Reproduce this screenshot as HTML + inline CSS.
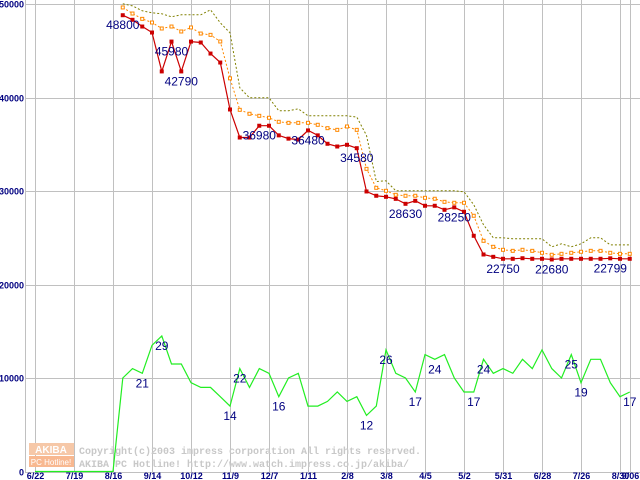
<!DOCTYPE html>
<html><head><meta charset="utf-8"><style>
html,body{margin:0;padding:0;background:#fff;}
svg{display:block;}
text{font-family:"Liberation Sans",sans-serif;}
</style></head><body>
<svg id="chart" width="640" height="480" viewBox="0 0 640 480" xmlns="http://www.w3.org/2000/svg">
<g id="grid"></g>
<g id="watermark">
  <rect x="29" y="443" width="45" height="12" fill="#f6c8a8"/>
  <rect x="29" y="456" width="45" height="11" fill="#f8b890"/>
  <text x="51" y="453" font-size="10" font-weight="bold" fill="#fff" text-anchor="middle">AKIBA</text>
  <text x="51" y="465" font-size="8" fill="#fff" text-anchor="middle">PC Hotline!</text>
  <text x="79" y="454" font-size="10" font-weight="bold" fill="#c8c8c8" style="font-family:'Liberation Mono',monospace">Copyright(c)2003 impress corporation All rights reserved.</text>
  <text x="79" y="467" font-size="10" font-weight="bold" fill="#c8c8c8" style="font-family:'Liberation Mono',monospace">AKIBA PC Hotline!  http://www.watch.impress.co.jp/akiba/</text>
</g>
<g id="series"></g>
<g id="labels"></g>
</svg>
<script>
const xTickIdx = [0,4,8,12,16,20,24,28,32,36,40,44,48,52,56,60,61];
const xTickLabels = ["6/22","7/19","8/16","9/14","10/12","11/9","12/7","1/11","2/8","3/8","4/5","5/2","5/31","6/28","7/26","8/30","9/06"];
const yTicks = [0,10000,20000,30000,40000,50000];
const priceStart = 9;
const minPrice = [48800,48310,47590,46950,42790,45980,42790,45980,45880,44700,43740,38720,35720,35720,36980,36980,35950,35600,35500,36480,35950,35050,34760,34940,34580,29950,29490,29380,29160,28630,28950,28420,28420,27990,28250,27780,25210,23210,22960,22750,22750,22810,22750,22750,22680,22750,22750,22750,22750,22750,22799,22750,22750];
const avgPrice = [49630,48980,48410,48020,47380,47590,47060,47490,46840,46700,45990,42050,38680,38260,38040,37830,37400,37290,37290,37290,37080,36720,36540,36900,36540,32370,30340,30020,29590,29490,29490,29270,29170,28840,28740,28740,27350,24670,24030,23710,23600,23710,23600,23390,23180,23280,23390,23500,23600,23600,23390,23280,23280];
const maxPrice = [50020,49800,49270,49060,48950,48630,48840,48840,48840,49380,47990,46920,41040,39970,39970,39970,38580,38580,38790,38040,38040,38040,38040,38040,37900,35950,31020,31090,30020,30020,30020,30020,30020,30020,30020,29910,28520,26380,24990,24990,24890,24890,24890,24890,24030,24350,24030,24350,24990,24990,24240,24240,24240];
const shopCount = [0,0,0,0,0,0,0,0,0,20,22,21,27,29,23,23,19,18,18,16,14,22,18,22,21,16,20,21,14,14,15,17,15,16,12,14,26,21,20,17,25,24,25,20,17,17,24,21,22,21,24,22,26,22,20,25,19,24,24,19,16,17];
const priceLabelIdx = [9,14,15,23,28,33,38,43,48,53,59];
const priceLabelText = ["48800","45980","42790","36980","36480","34580","28630","28250","22750","22680","22799"];
const countLabelIdx = [11,13,20,21,25,34,36,39,41,45,46,55,56,61];

const NS="http://www.w3.org/2000/svg";
function xs(i){return 35+i*9.75;}
function ys(v){return 471.5-v*0.00935;}
function mk(tag,attrs,parent){const e=document.createElementNS(NS,tag);for(const k in attrs)e.setAttribute(k,attrs[k]);parent.appendChild(e);return e;}
const grid=document.getElementById('grid'),series=document.getElementById('series'),labels=document.getElementById('labels');

let l=mk('line',{x1:25.5,y1:0,x2:25.5,y2:472,stroke:'#c0c0c0'},grid);


yTicks.forEach(v=>{
  const y=Math.round(ys(v))+0.5;
  const g=mk('line',{x1:25,y1:y,x2:640,y2:y,stroke:'#c0c0c0'},grid);
  
  
  const t=mk('text',{x:24,y:y+3,'font-size':9,'font-weight':'bold',fill:'#000080','text-anchor':'end'},grid);
  t.textContent=String(v);
  
  
});
xTickIdx.forEach((i,k)=>{
  const x=Math.round(xs(i))+0.5;
  const g=mk('line',{x1:x,y1:0,x2:x,y2:472,stroke:'#c0c0c0'},grid);
  
  
  const t=mk('text',{x:x,y:479,'font-size':9,'font-weight':'bold',fill:'#000080','text-anchor':'middle'},grid);
  t.textContent=xTickLabels[k];
  
  
});

function pts(arr,off){return arr.map((v,j)=>xs(j+off).toFixed(1)+','+ys(v).toFixed(1)).join(' ');}
let p=mk('polyline',{points:pts(shopCount.map(c=>c*500),0),fill:'none',stroke:'#22ee22','stroke-width':1.2},series);


p=mk('polyline',{points:pts(maxPrice,priceStart),fill:'none',stroke:'#808000','stroke-width':1,'stroke-dasharray':'2,2'},series);


p=mk('polyline',{points:pts(avgPrice,priceStart),fill:'none',stroke:'#ff8800','stroke-width':1,'stroke-dasharray':'2,2'},series);


avgPrice.forEach((v,j)=>{
  const r=mk('rect',{x:xs(j+priceStart)-1.5,y:ys(v)-1.5,width:3,height:3,fill:'#fff',stroke:'#ff8800','stroke-width':1},series);
  
  
});
p=mk('polyline',{points:pts(minPrice,priceStart),fill:'none',stroke:'#cc0000','stroke-width':1.2},series);


minPrice.forEach((v,j)=>{
  const r=mk('rect',{x:xs(j+priceStart)-2,y:ys(v)-2,width:4,height:4,fill:'#cc0000'},series);
  
  
});
priceLabelIdx.forEach((i,k)=>{
  const t=mk('text',{x:xs(i),y:ys(minPrice[i-priceStart])+14,'font-size':12,fill:'#000080','text-anchor':'middle'},labels);
  t.textContent=priceLabelText[k];
  
  
});
countLabelIdx.forEach(i=>{
  const t=mk('text',{x:xs(i),y:ys(shopCount[i]*500)+14,'font-size':12,fill:'#000080','text-anchor':'middle'},labels);
  t.textContent=String(shopCount[i]);
  
  
});
</script>
</body></html>
